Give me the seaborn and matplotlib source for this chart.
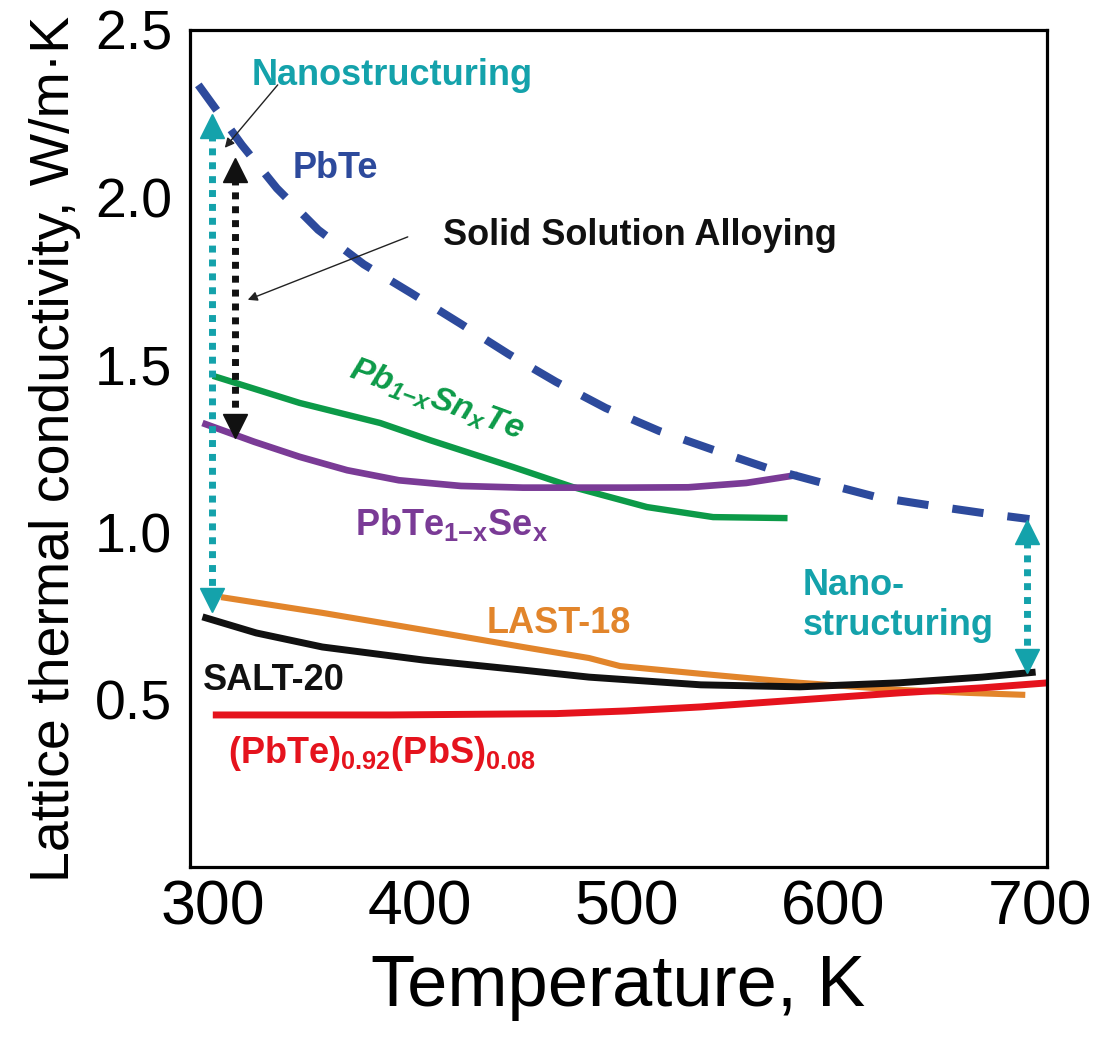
import matplotlib
matplotlib.use('Agg')
import matplotlib.pyplot as plt
import seaborn as sns
import pandas as pd
from matplotlib import font_manager

# ---------------- data ----------------
pbte_T = [293, 314, 331, 351, 373, 396, 420, 443, 466, 490, 516, 542, 568, 595, 621, 649, 676, 695]
pbte_k = [2.336, 2.157, 2.027, 1.903, 1.800, 1.714, 1.622, 1.532, 1.449, 1.371, 1.302, 1.246, 1.192, 1.147, 1.105, 1.078, 1.054, 1.039]

snte_T = [300, 342, 381, 405, 445, 474, 510, 542, 578]
snte_k = [1.467, 1.386, 1.326, 1.275, 1.195, 1.135, 1.075, 1.045, 1.042]

se_T = [295, 320, 342, 365, 390, 420, 450, 500, 530, 558, 583]
se_k = [1.326, 1.270, 1.225, 1.185, 1.155, 1.138, 1.133, 1.133, 1.134, 1.147, 1.171]

last_T = [304, 353, 402, 450, 482, 497, 536, 584, 632, 665, 693]
last_k = [0.806, 0.759, 0.708, 0.657, 0.624, 0.600, 0.577, 0.550, 0.529, 0.520, 0.514]

salt_T = [295, 321, 353, 402, 450, 482, 536, 584, 632, 672, 698]
salt_k = [0.747, 0.699, 0.657, 0.618, 0.588, 0.567, 0.544, 0.538, 0.550, 0.567, 0.582]

pbs_T = [300, 386, 466, 500, 536, 584, 632, 672, 704]
pbs_k = [0.454, 0.454, 0.458, 0.466, 0.478, 0.499, 0.520, 0.535, 0.550]

x_ticks = [300, 400, 500, 600, 700]
y_ticks = [0.5, 1.0, 1.5, 2.0, 2.5]

# annotation arrows (T, k_top, k_bottom)
nano_left = (299.5, 2.246, 0.762)
ssa_arrow = (310.6, 2.115, 1.284)
nano_right = (693.7, 1.033, 0.582)

# ---------------- style ----------------
sns.set_theme(style='white')
plt.rcParams['font.family'] = ['Liberation Sans', 'DejaVu Sans']
plt.rcParams['mathtext.default'] = 'regular'
plt.rcParams['text.color'] = 'black'
plt.rcParams['axes.labelcolor'] = 'black'
plt.rcParams['xtick.color'] = 'black'
plt.rcParams['ytick.color'] = 'black'
avail = {f.name for f in font_manager.fontManager.ttflist}
narrow = 'Liberation Sans Narrow' if 'Liberation Sans Narrow' in avail else 'Liberation Sans'

C_BLUE = '#2D4A9C'
C_GREEN = '#0C9A48'
C_PURPLE = '#7A3B96'
C_ORANGE = '#E2852B'
C_BLACK = '#111111'
C_RED = '#E5131D'
C_CYAN = '#14A2AB'

frames = []
for name, T, k in [('PbTe', pbte_T, pbte_k), ('SnTe', snte_T, snte_k), ('Se', se_T, se_k),
                   ('LAST', last_T, last_k), ('SALT', salt_T, salt_k), ('PbS', pbs_T, pbs_k)]:
    frames.append(pd.DataFrame({'T': T, 'k': k, 'series': name}))
df = pd.concat(frames, ignore_index=True)

fig = plt.figure(figsize=(11.05, 10.52), dpi=100)
ax = fig.add_axes([0.172, 0.1759, 0.7755, 0.7956])

styles = {
    'SnTe': (C_GREEN, 4.6),
    'Se': (C_PURPLE, 4.8),
    'LAST': (C_ORANGE, 4.4),
    'SALT': (C_BLACK, 5.0),
    'PbS': (C_RED, 5.0),
}
for name, (col, lw) in styles.items():
    sns.lineplot(data=df[df.series == name], x='T', y='k', color=col, lw=lw,
                 sort=False, estimator=None, ax=ax, legend=False,
                 solid_capstyle='butt', solid_joinstyle='round')

sns.lineplot(data=df[df.series == 'PbTe'], x='T', y='k', color=C_BLUE, lw=5.8,
             sort=False, estimator=None, ax=ax, legend=False)
ln = ax.lines[-1]
ln.set_dashes([3.9, 3.0])
ln.set_dash_capstyle('butt')
ln.set_dash_joinstyle('round')

# dotted double arrows
def dbl_arrow(spec, col):
    T, top, bot = spec
    h = 0.034
    ax.plot([T, T], [top - 2 * h + 0.01, bot + 2 * h - 0.01], color=col, lw=5,
            linestyle=(0, (1, 1)), dash_capstyle='butt', zorder=5)
    ax.plot([T], [top - h], marker='^', ms=17, color=col, mec=col, zorder=6)
    ax.plot([T], [bot + h], marker='v', ms=17, color=col, mec=col, zorder=6)

dbl_arrow(nano_left, C_CYAN)
dbl_arrow(ssa_arrow, C_BLACK)
dbl_arrow(nano_right, C_CYAN)

# thin pointer arrows
ap = dict(arrowstyle='-|>', color='#222222', lw=1.0, mutation_scale=14, shrinkA=0, shrinkB=0)
ax.annotate('', xy=(305.8, 2.148), xytext=(331.4, 2.336), arrowprops=ap)
ax.annotate('', xy=(316.9, 1.694), xytext=(394.3, 1.882), arrowprops=ap)

# texts
fs = 26
ax.text(318.9, 2.336, 'Nanostructuring', color=C_CYAN, fontsize=fs, fontweight='bold', ha='left', va='baseline')
ax.text(338.7, 2.058, 'PbTe', color=C_BLUE, fontsize=fs, fontweight='bold', ha='left', va='baseline')
ax.text(411.2, 1.858, 'Solid Solution Alloying', color=C_BLACK, fontsize=fs, fontweight='bold', ha='left', va='baseline')
ax.text(408.5, 1.395, 'Pb$_{1{-}x}$Sn$_x$Te', color=C_GREEN, fontsize=24.5, fontweight='bold', fontstyle='italic',
        ha='center', va='center', rotation=-20, rotation_mode='anchor')
ax.text(368.7, 0.992, 'PbTe$_{1{-}x}$Se$_x$', color=C_PURPLE, fontsize=fs, fontweight='bold', ha='left', va='baseline')
ax.text(432.5, 0.699, 'LAST-18', color=C_ORANGE, fontsize=fs, fontweight='bold', ha='left', va='baseline')
ax.text(295.2, 0.529, 'SALT-20', color=C_BLACK, fontsize=fs, fontweight='bold', ha='left', va='baseline')
ax.text(307.3, 0.311, '(PbTe)$_{0.92}$(PbS)$_{0.08}$', color=C_RED, fontsize=fs, fontweight='bold', ha='left', va='baseline')
ax.text(585.4, 0.812, 'Nano-', color=C_CYAN, fontsize=fs, fontweight='bold', ha='left', va='baseline')
ax.text(585.4, 0.693, 'structuring', color=C_CYAN, fontsize=fs, fontweight='bold', ha='left', va='baseline')

# axes
ax.set_xlim(289, 703.5)
ax.set_ylim(0, 2.5)
ax.set_xticks(x_ticks)
ax.set_xticklabels([str(v) for v in x_ticks])
ax.set_yticks(y_ticks)
ax.set_yticklabels([f'{v:.1f}' for v in y_ticks])
ax.tick_params(axis='x', length=0, pad=8, labelsize=45, labelcolor='black')
ax.tick_params(axis='y', length=0, pad=13, labelsize=40, labelcolor='black')
for lab in ax.get_xticklabels() + ax.get_yticklabels():
    lab.set_family([narrow, 'Liberation Sans', 'DejaVu Sans'])
for sp in ax.spines.values():
    sp.set_visible(True)
    sp.set_color('black')
    sp.set_linewidth(2.3)
ax.set_xlabel('Temperature, K', fontsize=52, labelpad=12, color='black',
              family=['Liberation Sans', 'DejaVu Sans'])
ax.set_ylabel('Lattice thermal conductivity, W/m·K', fontsize=40, labelpad=10, color='black',
              family=[narrow, 'Liberation Sans', 'DejaVu Sans'])
ax.grid(False)

fig.savefig('out.png', dpi=100, facecolor='white')
